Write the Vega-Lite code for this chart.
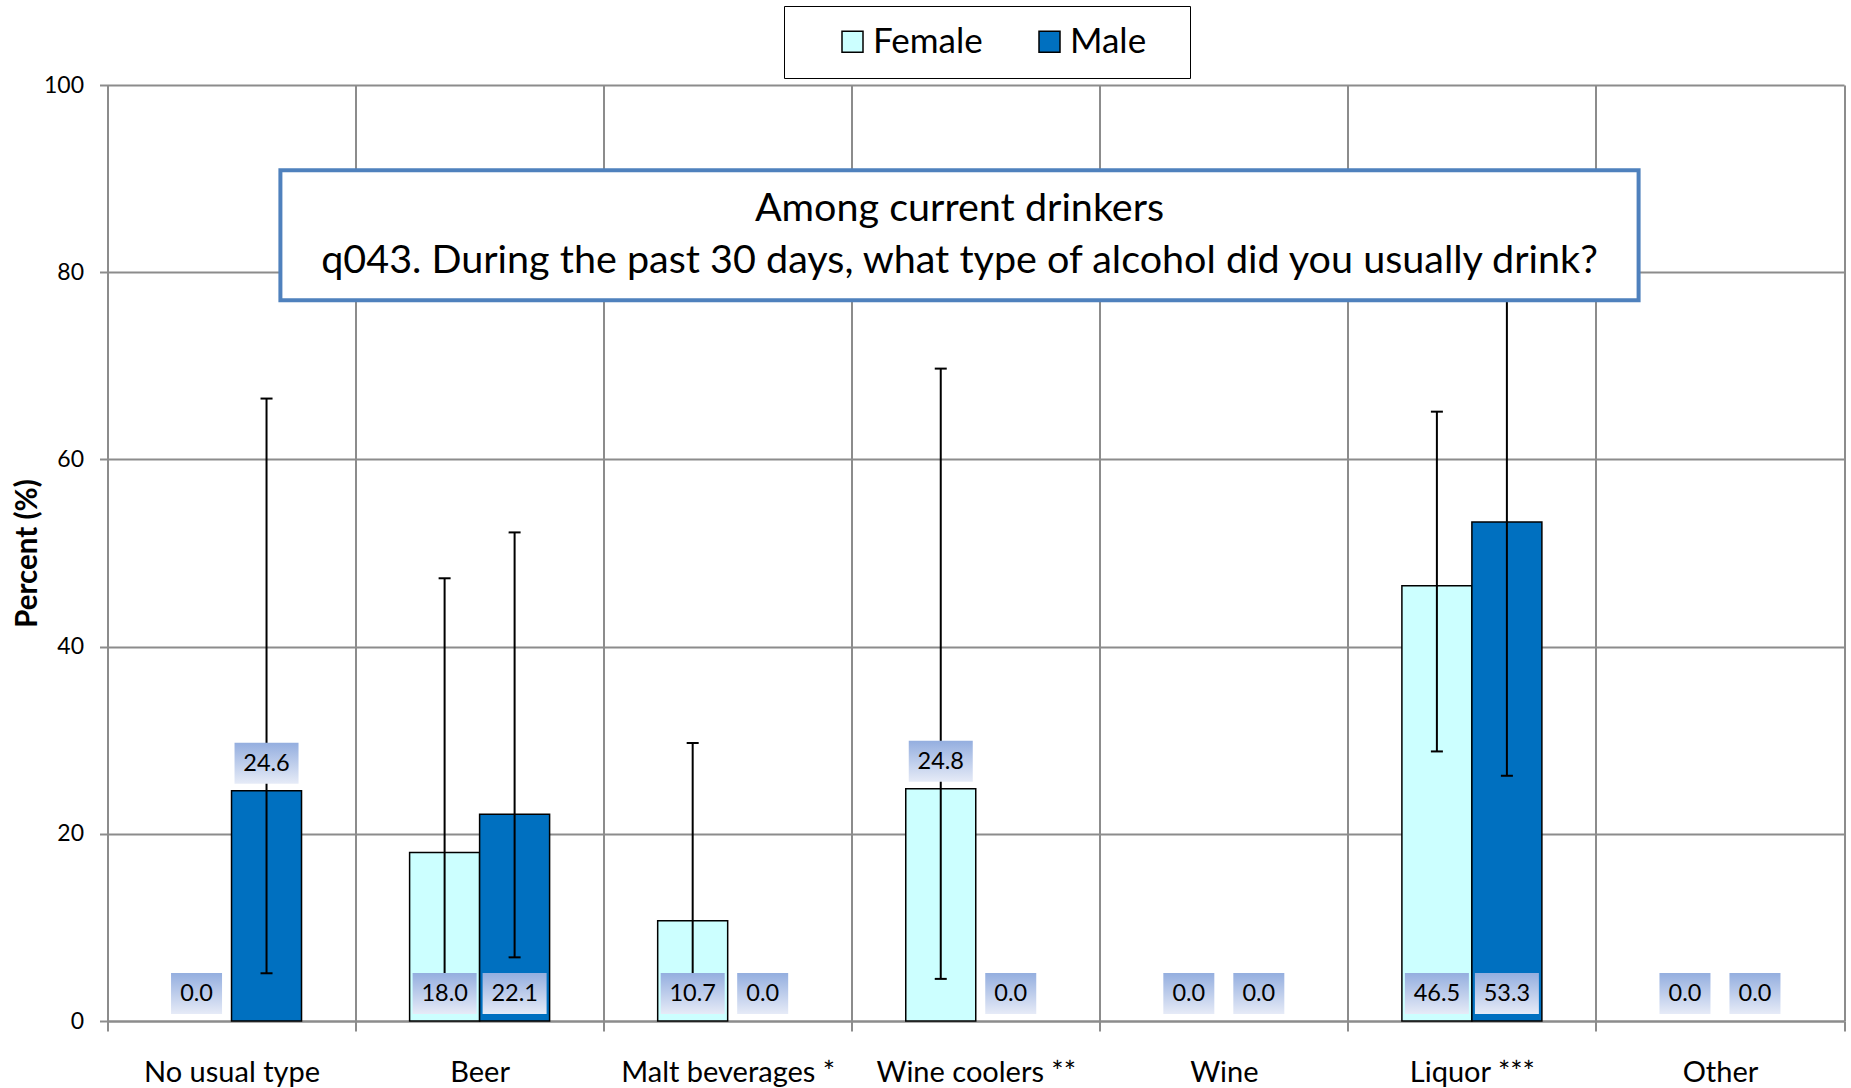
{
  "$schema": "https://vega.github.io/schema/vega-lite/v6.json",
  "width": 1736.5,
  "height": 936,
  "autosize": "none",
  "padding": {"left": 107.5, "top": 85, "right": 7, "bottom": 67},
  "background": "white",
  "config": {"view": {"stroke": null}, "font": "Lato"},
  "datasets": {
    "rows": [
      {"cat": "No usual type", "sex": "Female", "value": 0.0, "lo": null, "hi": null},
      {"cat": "No usual type", "sex": "Male", "value": 24.6, "lo": 5.1, "hi": 66.5},
      {"cat": "Beer", "sex": "Female", "value": 18.0, "lo": 4.9, "hi": 47.3},
      {"cat": "Beer", "sex": "Male", "value": 22.1, "lo": 6.8, "hi": 52.2},
      {"cat": "Malt beverages *", "sex": "Female", "value": 10.7, "lo": 3.4, "hi": 29.7},
      {"cat": "Malt beverages *", "sex": "Male", "value": 0.0, "lo": null, "hi": null},
      {"cat": "Wine coolers **", "sex": "Female", "value": 24.8, "lo": 4.5, "hi": 69.7},
      {"cat": "Wine coolers **", "sex": "Male", "value": 0.0, "lo": null, "hi": null},
      {"cat": "Wine", "sex": "Female", "value": 0.0, "lo": null, "hi": null},
      {"cat": "Wine", "sex": "Male", "value": 0.0, "lo": null, "hi": null},
      {"cat": "Liquor ***", "sex": "Female", "value": 46.5, "lo": 28.8, "hi": 65.1},
      {"cat": "Liquor ***", "sex": "Male", "value": 53.3, "lo": 26.2, "hi": 80.4},
      {"cat": "Other", "sex": "Female", "value": 0.0, "lo": null, "hi": null},
      {"cat": "Other", "sex": "Male", "value": 0.0, "lo": null, "hi": null}
    ],
    "titlebox": [
      {"line1": "Among current drinkers", "line2": "q043. During the past 30 days, what type of alcohol did you usually drink?"}
    ]
  },
  "layer": [
    {
      "data": {"name": "rows"},
      "encoding": {
        "x": {
          "field": "cat", "type": "nominal",
          "scale": {"domain": ["No usual type", "Beer", "Malt beverages *", "Wine coolers **", "Wine", "Liquor ***", "Other"], "paddingInner": 0, "paddingOuter": 0},
          "axis": {
            "title": null, "labelAngle": 0, "labelFontSize": 29, "labelColor": "black", "labelPadding": 27, "labelLimit": 0,
            "tickBand": "extent", "tickSize": 10, "tickColor": "#8c8c8c", "tickWidth": 2,
            "grid": true, "gridColor": "#8c8c8c", "gridWidth": 2,
            "domainColor": "#8c8c8c", "domainWidth": 2
          }
        },
        "xOffset": {"field": "sex", "type": "nominal", "scale": {"domain": ["Female", "Male"], "paddingInner": 0, "paddingOuter": 0.772}}
      },
      "layer": [
        {
          "transform": [{"filter": "datum.value > 0"}],
          "mark": {"type": "bar", "stroke": "black", "strokeWidth": 1.5},
          "encoding": {
            "y": {
              "field": "value", "type": "quantitative",
              "scale": {"domain": [0, 100], "nice": false},
              "axis": {
                "values": [0, 20, 40, 60, 80, 100], "title": "Percent (%)", "titleFontSize": 29.5, "titleFontWeight": "bold", "titleColor": "black", "titlePadding": 1,
                "labelFontSize": 23, "labelColor": "black", "labelPadding": 16,
                "tickSize": 8, "tickColor": "#8c8c8c", "tickWidth": 2,
                "grid": true, "gridColor": "#8c8c8c", "gridWidth": 2,
                "domainColor": "#8c8c8c", "domainWidth": 2
              }
            },
            "color": {
              "field": "sex", "type": "nominal",
              "scale": {"domain": ["Female", "Male"], "range": ["#ccffff", "#0070c0"]},
              "legend": {
                "orient": "none", "legendX": 676.5, "legendY": -79, "direction": "horizontal",
                "title": " ", "titleOrient": "right", "titlePadding": 26, "titleFontSize": 2,
                "labelFontSize": 35, "labelColor": "black", "labelOffset": 3,
                "symbolType": "square", "symbolSize": 441, "symbolStrokeColor": "black", "symbolStrokeWidth": 1.5,
                "strokeColor": "black", "padding": 18, "columnPadding": 16, "symbolOffset": 33
              }
            }
          }
        },
        {
          "transform": [{"filter": "datum.lo != null"}],
          "mark": {"type": "rule", "color": "black", "strokeWidth": 2},
          "encoding": {
            "y": {"field": "lo", "type": "quantitative"},
            "y2": {"field": "hi"}
          }
        },
        {
          "transform": [{"filter": "datum.lo != null"}],
          "mark": {"type": "tick", "orient": "horizontal", "color": "black", "size": 12, "thickness": 2, "opacity": 1},
          "encoding": {"y": {"field": "lo", "type": "quantitative"}}
        },
        {
          "transform": [{"filter": "datum.hi != null"}],
          "mark": {"type": "tick", "orient": "horizontal", "color": "black", "size": 12, "thickness": 2, "opacity": 1},
          "encoding": {"y": {"field": "hi", "type": "quantitative"}}
        },
        {
          "transform": [{"filter": "!((datum.cat == 'No usual type' && datum.sex == 'Male') || (datum.cat == 'Wine coolers **' && datum.sex == 'Female')) && datum.value == 0"}],
          "mark": {"type": "bar", "width": 51, "yOffset": -7, "y2Offset": -48,
            "fill": {"gradient": "linear", "x1": 0, "y1": 0, "x2": 0, "y2": 1, "stops": [{"offset": 0, "color": "#94aedf"}, {"offset": 1, "color": "#e6ebf7"}]}},
          "encoding": {"y": {"datum": 0, "type": "quantitative"}, "y2": {"datum": 0}}
        },
        {
          "transform": [{"filter": "!((datum.cat == 'No usual type' && datum.sex == 'Male') || (datum.cat == 'Wine coolers **' && datum.sex == 'Female')) && datum.value > 0"}],
          "mark": {"type": "bar", "width": 64, "yOffset": -7, "y2Offset": -48,
            "fill": {"gradient": "linear", "x1": 0, "y1": 0, "x2": 0, "y2": 1, "stops": [{"offset": 0, "color": "#94aedf"}, {"offset": 1, "color": "#e6ebf7"}]}},
          "encoding": {"y": {"datum": 0, "type": "quantitative"}, "y2": {"datum": 0}}
        },
        {
          "transform": [{"filter": "(datum.cat == 'No usual type' && datum.sex == 'Male') || (datum.cat == 'Wine coolers **' && datum.sex == 'Female')"}],
          "mark": {"type": "bar", "width": 64, "yOffset": -7, "y2Offset": -48,
            "fill": {"gradient": "linear", "x1": 0, "y1": 0, "x2": 0, "y2": 1, "stops": [{"offset": 0, "color": "#94aedf"}, {"offset": 1, "color": "#e6ebf7"}]}},
          "encoding": {"y": {"field": "value", "type": "quantitative"}, "y2": {"field": "value"}}
        },
        {
          "transform": [{"filter": "!((datum.cat == 'No usual type' && datum.sex == 'Male') || (datum.cat == 'Wine coolers **' && datum.sex == 'Female'))"}],
          "mark": {"type": "text", "fontSize": 23.5, "color": "black", "baseline": "middle", "yOffset": -27},
          "encoding": {"y": {"datum": 0, "type": "quantitative"}, "text": {"field": "value", "type": "quantitative", "format": ".1f"}}
        },
        {
          "transform": [{"filter": "(datum.cat == 'No usual type' && datum.sex == 'Male') || (datum.cat == 'Wine coolers **' && datum.sex == 'Female')"}],
          "mark": {"type": "text", "fontSize": 23.5, "color": "black", "baseline": "middle", "yOffset": -27},
          "encoding": {"y": {"field": "value", "type": "quantitative"}, "text": {"field": "value", "type": "quantitative", "format": ".1f"}}
        }
      ]
    },
    {
      "data": {"name": "titlebox"},
      "layer": [
        {
          "mark": {"type": "rect", "fill": "white", "stroke": "#4f81bd", "strokeWidth": 4},
          "encoding": {
            "x": {"datum": 0.697, "type": "quantitative", "scale": {"domain": [0, 7], "nice": false, "zero": false}, "axis": null},
            "x2": {"datum": 6.172},
            "y": {"datum": 90.9, "type": "quantitative"},
            "y2": {"datum": 77.0}
          }
        },
        {
          "mark": {"type": "text", "fontSize": 39.5, "color": "black", "baseline": "middle", "align": "center"},
          "encoding": {
            "x": {"datum": 3.4345, "type": "quantitative"},
            "y": {"datum": 86.7, "type": "quantitative"},
            "text": {"field": "line1"}
          }
        },
        {
          "mark": {"type": "text", "fontSize": 39.5, "color": "black", "baseline": "middle", "align": "center"},
          "encoding": {
            "x": {"datum": 3.4345, "type": "quantitative"},
            "y": {"datum": 81.25, "type": "quantitative"},
            "text": {"field": "line2"}
          }
        }
      ]
    }
  ],
  "resolve": {"scale": {"x": "independent"}}
}
